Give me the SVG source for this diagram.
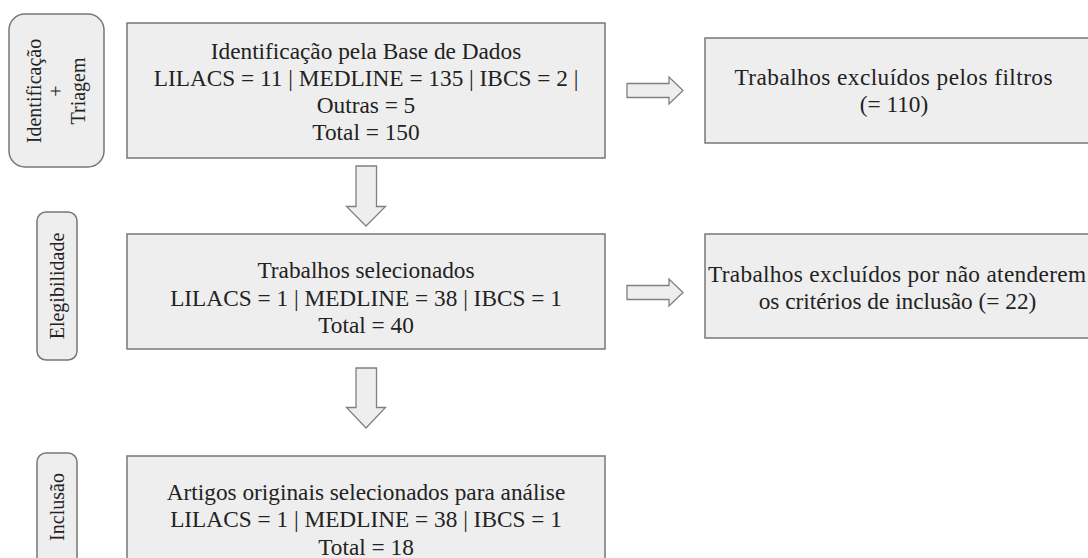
<svg xmlns="http://www.w3.org/2000/svg" width="1088" height="558" viewBox="0 0 1088 558" font-family="Liberation Serif, serif">
<style>
.box{fill:#eeeeee;stroke:#777777;stroke-width:1.5}
.lbl{fill:#eeeeee;stroke:#777777;stroke-width:1.5}
.arr{fill:#eeeeee;stroke:#808080;stroke-width:1.3;stroke-linejoin:miter}
.t{font-size:23.3px;fill:#222222;text-anchor:middle}
.tl{font-size:20px;fill:#222222;text-anchor:middle}
</style>
<rect width="1088" height="558" fill="#ffffff"/>
<g id="label-identificacao">
<rect class="lbl" x="9" y="14" width="95" height="153" rx="16"/>
<text class="tl" transform="translate(41,91) rotate(-90)">Identificação</text>
<text class="tl" transform="translate(63,91) rotate(-90)">+</text>
<text class="tl" transform="translate(85,91) rotate(-90)">Triagem</text>
</g>
<g id="label-elegibilidade">
<rect class="lbl" x="37" y="212" width="40" height="148" rx="9"/>
<text class="tl" transform="translate(64,286) rotate(-90)">Elegibilidade</text>
</g>
<g id="label-inclusao">
<rect class="lbl" x="37" y="453" width="40" height="120" rx="9"/>
<text class="tl" transform="translate(64,507) rotate(-90)">Inclusão</text>
</g>
<g id="node-identificacao">
<rect class="box" x="127" y="23" width="478" height="135"/>
<text class="t" x="366" y="59">Identificação pela Base de Dados</text>
<text class="t" x="366" y="86">LILACS = 11 | MEDLINE = 135 | IBCS = 2 |</text>
<text class="t" x="366" y="113">Outras = 5</text>
<text class="t" x="366" y="140">Total = 150</text>
</g>
<g id="node-selecionados">
<rect class="box" x="127" y="234" width="478" height="115"/>
<text class="t" x="366" y="278">Trabalhos selecionados</text>
<text class="t" x="366" y="306">LILACS = 1 | MEDLINE = 38 | IBCS = 1</text>
<text class="t" x="366" y="333">Total = 40</text>
</g>
<g id="node-artigos">
<rect class="box" x="127" y="456" width="478" height="120"/>
<text class="t" x="366" y="500">Artigos originais selecionados para análise</text>
<text class="t" x="366" y="527">LILACS = 1 | MEDLINE = 38 | IBCS = 1</text>
<text class="t" x="366" y="555">Total = 18</text>
</g>
<g id="node-excluidos-filtros">
<rect class="box" x="705" y="38" width="390" height="105"/>
<text class="t" x="893.5" y="85" textLength="318" lengthAdjust="spacing">Trabalhos excluídos pelos filtros</text>
<text class="t" x="894" y="112">(= 110)</text>
</g>
<g id="node-excluidos-criterios">
<rect class="box" x="705" y="234" width="390" height="104"/>
<text class="t" x="897" y="282" textLength="378" lengthAdjust="spacing">Trabalhos excluídos por não atenderem</text>
<text class="t" x="897.5" y="309">os critérios de inclusão (= 22)</text>
</g>
<g id="connectors">
<path class="arr" d="M356,166 H376.5 V206.5 H385.5 L366,226 L346.5,206.5 H356 Z"/>
<path class="arr" d="M356,368 H376.5 V407.5 H385.5 L366,428 L346.5,407.5 H356 Z"/>
<path class="arr" d="M627,83.5 H669 V77 L683,90.5 L669,104 V97.5 H627 Z"/>
<path class="arr" d="M627,285.5 H669 V279 L683,292.5 L669,306 V299.5 H627 Z"/>
</g>
</svg>
